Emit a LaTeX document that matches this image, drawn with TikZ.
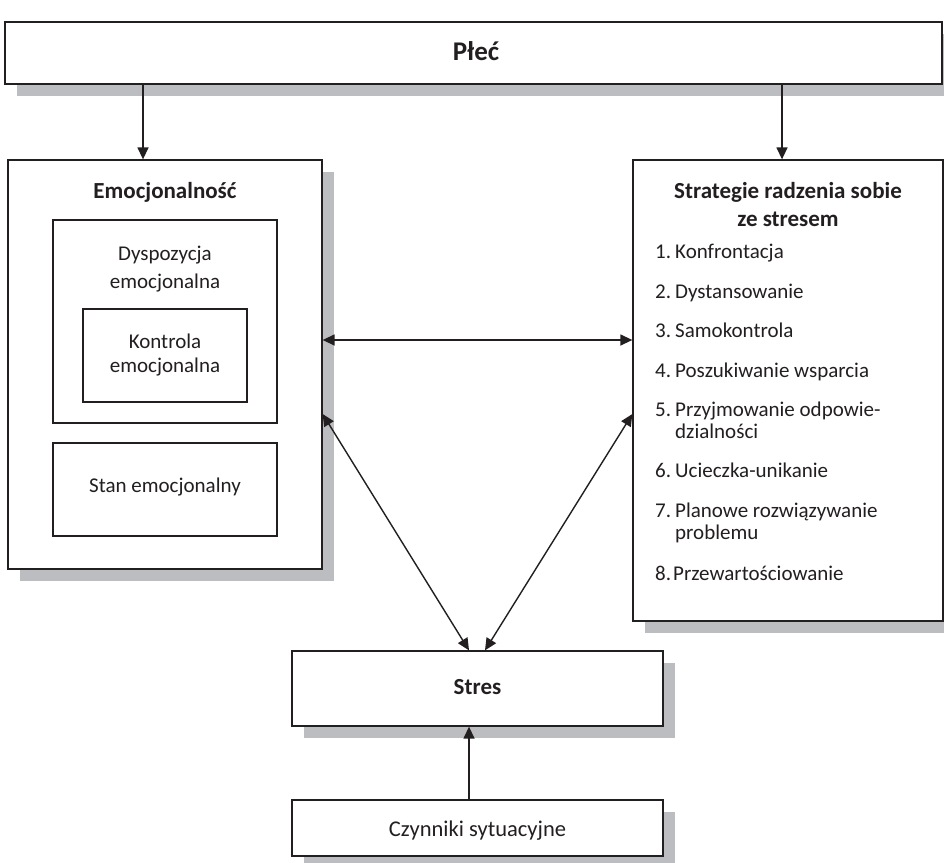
\documentclass[tikz,border=0pt]{standalone}
\usepackage{fontspec}
\setmainfont{Carlito}
\usetikzlibrary{shadows,arrows.meta,calc}
\definecolor{shadowgray}{HTML}{BCBDC0}
\definecolor{ink}{HTML}{231F20}
\tikzset{
  box/.style={draw=ink, line width=1.3pt, fill=white, rectangle, inner sep=0pt},
  shbox/.style={box, drop shadow={shadow xshift=12pt, shadow yshift=-12pt, fill=shadowgray, opacity=1}},
  txt/.style={anchor=base, inner sep=0pt, text=ink, font=\fontsize{21}{25}\selectfont},
  btxt/.style={txt, font=\fontsize{23}{27}\selectfont\bfseries},
  ltxt/.style={anchor=base west, inner sep=0pt, text=ink, font=\fontsize{21}{25}\selectfont},
  arr/.style={draw=ink, line width=1.4pt, -{Triangle[length=12pt,width=11pt]}},
  darr/.style={draw=ink, line width=1.4pt, {Triangle[length=12pt,width=11pt]}-{Triangle[length=12pt,width=11pt]}}
}
\begin{document}
\begin{tikzpicture}[x=1pt,y=-1pt]
\useasboundingbox (0,0) rectangle (944,862);
\fill[white] (0,0) rectangle (944,862);
% boxes
\node[shbox, minimum width=937pt, minimum height=62pt] (plec) at (473.5,53) {};
\node[shbox, minimum width=314pt, minimum height=409pt] (emo) at (165,364.5) {};
\node[box, minimum width=224pt, minimum height=203pt] (dysp) at (165,321.5) {};
\node[box, minimum width=164pt, minimum height=93pt] (kontr) at (165,355.5) {};
\node[box, minimum width=224pt, minimum height=93pt] (stan) at (165,489.5) {};
\node[shbox, minimum width=310pt, minimum height=461pt] (strat) at (788,390.5) {};
\node[shbox, minimum width=371pt, minimum height=75pt] (stres) at (477.5,688.5) {};
\node[shbox, minimum width=371pt, minimum height=56pt] (czyn) at (477.5,828) {};
% texts
\node[btxt, font=\fontsize{27}{30}\selectfont\bfseries] (tplec) at (476,60) {Płeć};
\node[btxt] (temo) at (165,198) {Emocjonalność};
\node[txt] (td1) at (165,260) {Dyspozycja};
\node[txt] (td2) at (165,288) {emocjonalna};
\node[txt] (tk1) at (165,348) {Kontrola};
\node[txt] (tk2) at (165,372) {emocjonalna};
\node[txt] (ts) at (165,492) {Stan emocjonalny};
\node[btxt] (tst1) at (788,198) {Strategie radzenia sobie};
\node[btxt] (tst2) at (788,226) {ze stresem};
\node[ltxt] (n1) at (655,258) {1.};
\node[ltxt] (i1) at (675,258) {Konfrontacja};
\node[ltxt] (n2) at (655,298) {2.};
\node[ltxt] (i2) at (675,298) {Dystansowanie};
\node[ltxt] (n3) at (655,337) {3.};
\node[ltxt] (i3) at (675,337) {Samokontrola};
\node[ltxt] (n4) at (655,377) {4.};
\node[ltxt] (i4) at (675,377) {Poszukiwanie wsparcia};
\node[ltxt] (n5) at (655,416) {5.};
\node[ltxt] (i5a) at (675,416) {Przyjmowanie odpowie-};
\node[ltxt] (i5b) at (675,438) {dzialności};
\node[ltxt] (n6) at (655,477) {6.};
\node[ltxt] (i6) at (675,477) {Ucieczka-unikanie};
\node[ltxt] (n7) at (655,517) {7.};
\node[ltxt] (i7a) at (675,517) {Planowe rozwiązywanie};
\node[ltxt] (i7b) at (675,539) {problemu};
\node[ltxt] (n8) at (655,580) {8.};
\node[ltxt] (i8) at (673,580) {Przewartościowanie};
\node[btxt] (tstres) at (477.5,694) {Stres};
\node[txt, font=\fontsize{22.5}{26}\selectfont] (tczyn) at (477.5,836) {Czynniki sytuacyjne};
% connector helpers
\coordinate (xa) at (143,0);
\coordinate (xb) at (782,0);
\coordinate (yh) at (0,340);
\coordinate (yd) at (0,414);
\coordinate (xl) at (469,0);
\coordinate (xr) at (485,0);
% connectors
\draw[arr] (plec.south -| xa) -- (emo.north -| xa);
\draw[arr] (plec.south -| xb) -- (strat.north -| xb);
\draw[darr] (emo.east |- yh) -- (strat.west |- yh);
\draw[darr] (emo.east |- yd) -- (stres.north -| xl);
\draw[darr] (strat.west |- yd) -- (stres.north -| xr);
\draw[arr] (czyn.north -| xl) -- (stres.south -| xl);
\end{tikzpicture}
\end{document}
